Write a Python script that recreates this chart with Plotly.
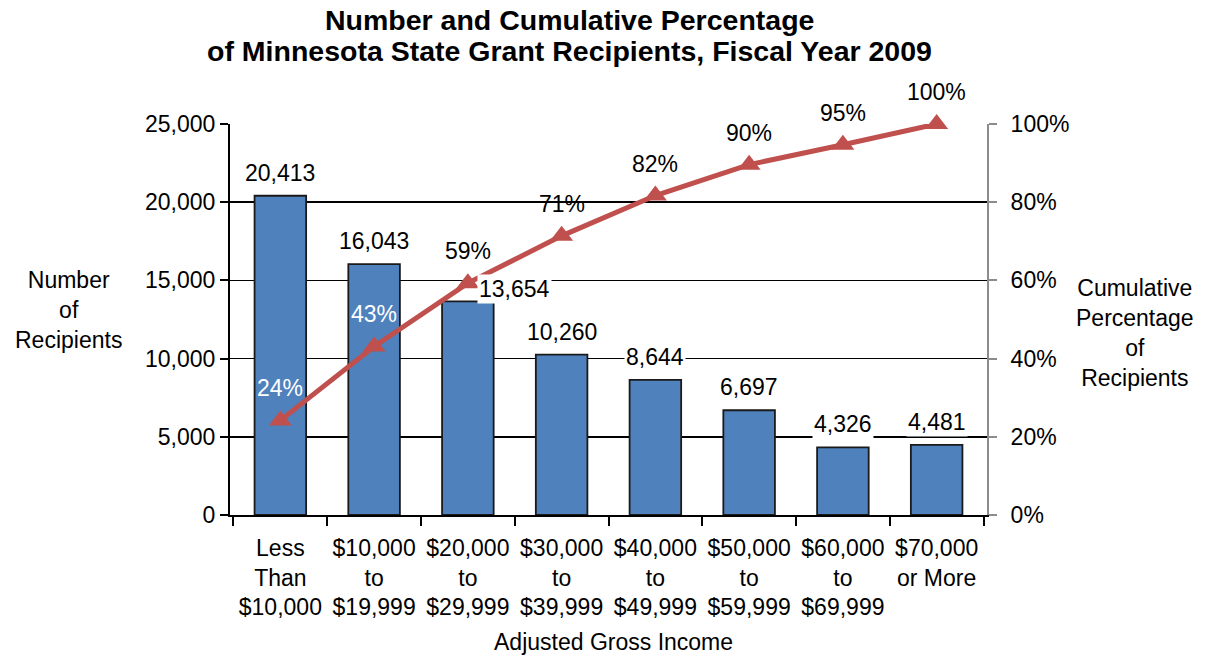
import plotly.graph_objects as go

categories = ["Less<br>Than<br>$10,000", "$10,000<br>to<br>$19,999", "$20,000<br>to<br>$29,999",
              "$30,000<br>to<br>$39,999", "$40,000<br>to<br>$49,999", "$50,000<br>to<br>$59,999",
              "$60,000<br>to<br>$69,999", "$70,000<br>or More"]
recipients = [20413, 16043, 13654, 10260, 8644, 6697, 4326, 4481]
cum_pct = [24.2, 43.1, 59.3, 71.4, 81.7, 89.6, 94.7, 100.0]
left_ticks = [0, 5000, 10000, 15000, 20000, 25000]
right_ticks = [0, 20, 40, 60, 80, 100]
title_lines = ["Number and Cumulative Percentage",
               "of Minnesota State Grant Recipients, Fiscal Year 2009"]

FONT = "Liberation Sans, Arial, sans-serif"
FS = 23
BLUE = "#4F81BD"
RED = "#C0504D"

# plot area spans x 230..987, y 124..515 on screen (body margin removed)
W, H = 1207, 658
L, T = 230, 124
PW, PH = 757, 391
R, B = W - L - PW, H - T - PH


def px_x(x):
    return (x - 230) / PW


def px_y(y):
    return (515 - y) / PH


fig = go.Figure()
fig.add_trace(go.Bar(x=categories, y=recipients, marker=dict(color=BLUE, line=dict(color="#1a1a1a", width=1.8)),
                     yaxis="y", hoverinfo="skip", showlegend=False))
fig.add_trace(go.Scatter(x=categories, y=cum_pct, yaxis="y2", mode="lines+markers",
                         line=dict(color=RED, width=5), cliponaxis=False,
                         marker=dict(symbol="triangle-up", size=20, color=RED),
                         hoverinfo="skip", showlegend=False))

annotations = []
for i, (c, v) in enumerate(zip(categories, recipients)):
    xs, ys = (47, 12) if i == 2 else (0, 23)
    annotations.append(dict(x=c, y=v, xref="x", yref="y", text=f"{v:,}", showarrow=False,
                            xshift=xs, yshift=ys, bgcolor="white", borderpad=1,
                            xanchor="center", yanchor="middle",
                            font=dict(family=FONT, size=FS, color="black")))
for i, (c, p) in enumerate(zip(categories, cum_pct)):
    annotations.append(dict(x=c, y=p, xref="x", yref="y2", text=f"{round(p)}%", showarrow=False,
                            yshift=32, xanchor="center", yanchor="middle",
                            font=dict(family=FONT, size=FS, color="white" if i < 2 else "black")))
annotations.append(dict(x=px_x(68), y=px_y(310), xref="paper", yref="paper",
                        text="Number<br>of<br>Recipients", xanchor="center", yanchor="middle",
                        showarrow=False, font=dict(family=FONT, size=FS, color="black")))
annotations.append(dict(x=px_x(1135), y=px_y(333), xref="paper", yref="paper",
                        text="Cumulative<br>Percentage<br>of<br>Recipients", xanchor="center", yanchor="middle",
                        showarrow=False, font=dict(family=FONT, size=FS, color="black")))
annotations.append(dict(x=px_x(613), y=px_y(642), xref="paper", yref="paper", text="Adjusted Gross Income",
                        xanchor="center", yanchor="middle",
                        showarrow=False, font=dict(family=FONT, size=FS, color="black")))
for line, ty in zip(title_lines, [20, 51]):
    annotations.append(dict(x=px_x(569), y=px_y(ty), xref="paper", yref="paper", text=f"<b>{line}</b>",
                            xanchor="center", yanchor="middle", showarrow=False,
                            font=dict(family=FONT, size=28.5, color="black")))

fig.update_layout(
    width=W, height=H,
    margin=dict(l=L, r=R, t=T, b=B),
    paper_bgcolor="white", plot_bgcolor="white",
    bargap=0.45,
    font=dict(family=FONT, size=FS, color="black"),
    xaxis=dict(showline=True, linecolor="black", linewidth=2, ticks="outside", tickson="boundaries",
               ticklen=9, tickcolor="black", tickwidth=2, showgrid=False, ticklabelstandoff=11,
               tickfont=dict(family=FONT, size=FS, color="black")),
    yaxis=dict(range=[0, 25000], tickvals=left_ticks, ticktext=[f"{t:,}" for t in left_ticks],
               showline=True, linecolor="black", linewidth=2, ticks="outside", ticklen=8,
               tickcolor="black", tickwidth=2, showgrid=True, gridcolor="black", gridwidth=1.5,
               zeroline=False, tickfont=dict(family=FONT, size=FS, color="black")),
    yaxis2=dict(range=[0, 100], tickvals=right_ticks, ticktext=[f"{t}%" for t in right_ticks],
                overlaying="y", side="right", showline=True, linecolor="#8c8c8c", linewidth=2,
                ticks="outside", ticklen=8, tickcolor="#8c8c8c", tickwidth=2, showgrid=False,
                ticklabelstandoff=9,
                zeroline=False, tickfont=dict(family=FONT, size=FS, color="black")),
    annotations=annotations,
)

fig.write_html("out.html", config={"displayModeBar": False, "staticPlot": True},
               post_script="document.body.style.margin='0';document.body.style.padding='0';"
                           "document.body.style.overflow='hidden';")
